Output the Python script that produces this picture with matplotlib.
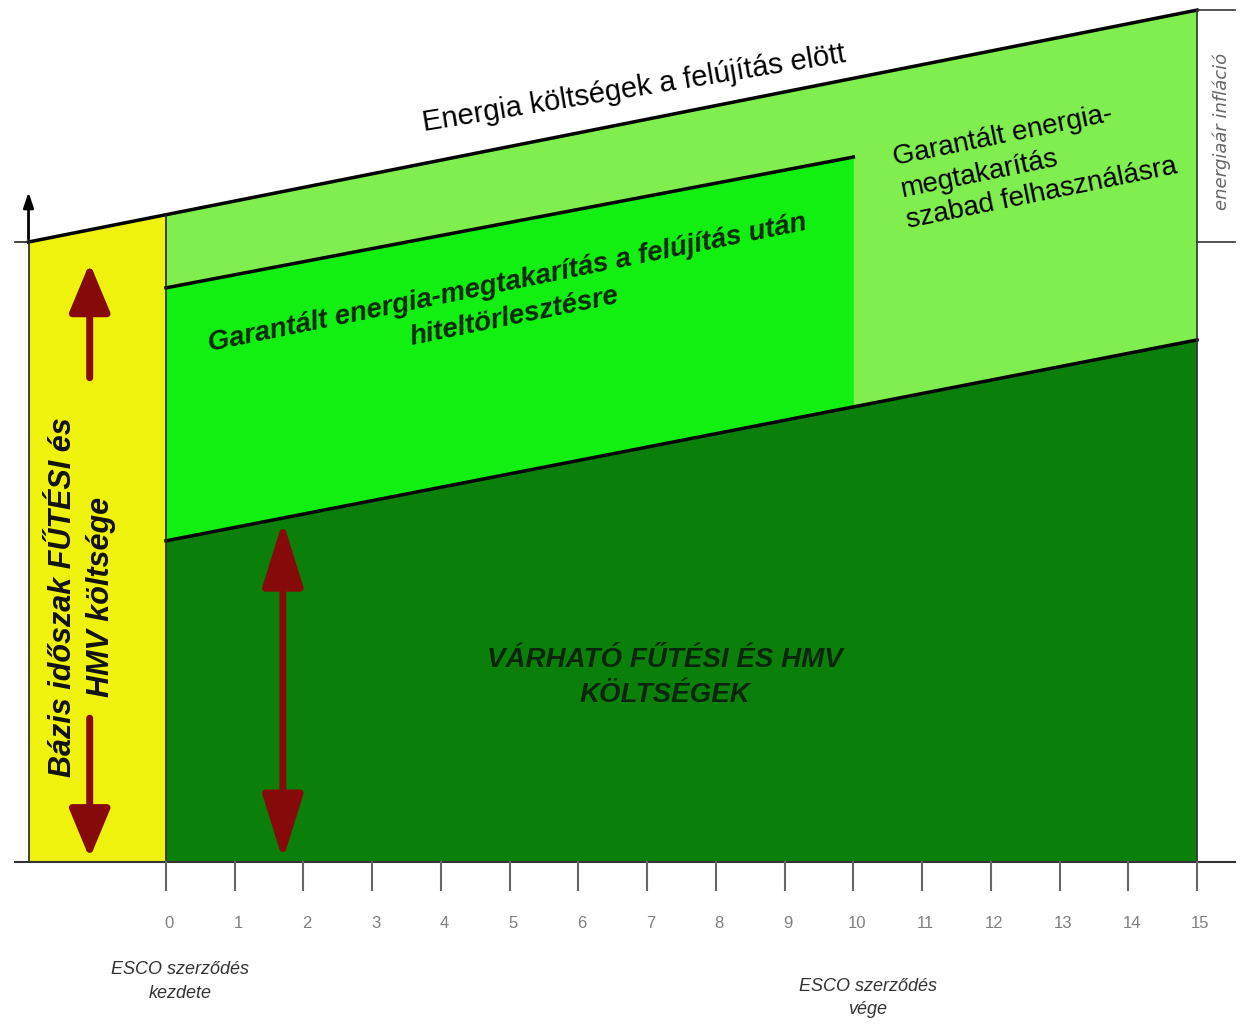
import numpy as np
import matplotlib.pyplot as plt

plt.rcParams['font.family'] = ['Liberation Sans', 'DejaVu Sans']

# cost index values (base period = 100)
base_years = [-2, 0]
base_cost = [100, 104.4]
years = [0, 10, 15]
cost_before = [104.4, 126.4, 137.4]
loan_years = [0, 10]
loan_top = [92.6, 113.7]
expected_cost = [51.8, 73.4, 84.2]
tick_years = list(range(0, 16))
tick_labels = [str(t) for t in tick_years]

c_yellow = '#eef20c'
c_light = '#80ee4e'
c_mid = '#12f012'
c_dark = '#0a800a'
c_red = '#870a0a'

fig = plt.figure(figsize=(12.41, 10.24), dpi=100)
ax = fig.add_axes([0, 0, 1, 1])
ax.set_xlim(-2.415, 15.64)
ax.set_ylim(-26.13, 139.03)
ax.axis('off')

# areas
ax.fill_between(base_years, 0, base_cost, color=c_yellow, lw=0)
ax.fill_between(years, expected_cost, cost_before, color=c_light, lw=0)
ax.fill_between(loan_years, expected_cost[:2], loan_top, color=c_mid, lw=0)
ax.fill_between(years, 0, expected_cost, color=c_dark, lw=0)

# outlines
ax.plot(base_years + years[1:], base_cost + cost_before[1:], color='black', lw=2.5)
ax.plot(loan_years, loan_top, color='black', lw=2.5)
ax.plot(years, expected_cost, color='black', lw=2.5)
ax.plot([0, 0], [0, cost_before[0]], color='#222222', lw=1.2)
ax.plot([-2, -2], [0, base_cost[0]], color='#222222', lw=1.2)
ax.plot([15, 15], [0, cost_before[-1]], color='#333333', lw=1.2)
ax.plot([-2.2, 15.55], [0, 0], color='#333333', lw=1.5)
ax.plot([-2.2, -1.95], [base_cost[0], base_cost[0]], color='#222222', lw=1.2)
ax.plot([15, 15.55], [base_cost[0], base_cost[0]], color='#333333', lw=1.2)
ax.plot([15, 15.55], [cost_before[-1], cost_before[-1]], color='#333333', lw=1.2)
ax.annotate('', xy=(-2, 108.5), xytext=(-2, 100),
            arrowprops=dict(arrowstyle='-|>,head_length=0.9,head_width=0.3',
                            color='black', lw=2, mutation_scale=10))

# x ticks
for t, lab in zip(tick_years, tick_labels):
    ax.plot([t, t], [0, -4.5], color='#666666', lw=1.5)
    ax.text(t + 0.05, -10, lab, ha='center', va='center', fontsize=12, color='#808080')

ax.text(0.2, -19.3, 'ESCO szerződés\nkezdete', ha='center', va='center', fontsize=13,
        style='italic', color='#333333', linespacing=1.5)
ax.text(10.21, -21.9, 'ESCO szerződés\nvége', ha='center', va='center', fontsize=13,
        style='italic', color='#333333', linespacing=1.5)

# arrows
left_kw = dict(arrowstyle='-|>,head_length=3.0,head_width=1.25', color=c_red,
               lw=5, mutation_scale=10, shrinkA=0, shrinkB=0)
ax.annotate('', xy=(-1.11, 96.6), xytext=(-1.11, 78.1), arrowprops=left_kw)
ax.annotate('', xy=(-1.11, 0.6), xytext=(-1.11, 23.2), arrowprops=left_kw)
ax.annotate('', xy=(1.70, 55.0), xytext=(1.70, 0.3),
            arrowprops=dict(arrowstyle='<|-|>,head_length=4.0,head_width=1.25', color=c_red,
                            lw=5, mutation_scale=10, shrinkA=0, shrinkB=0))

# labels
ax.text(6.81, 124.8, 'Energia költségek a felújítás elött', rotation=9.3, ha='center',
        va='center', fontsize=21, color='black', rotation_mode='anchor')
ax.text(5.02, 90.6, 'Garantált energia-megtakarítás a felújítás után\nhiteltörlesztésre',
        rotation=11.5, ha='center', va='center', fontsize=20, fontweight='bold',
        style='italic', color='#082808', rotation_mode='anchor', multialignment='center',
        linespacing=1.4)
ax.text(10.55, 115.5, 'Garantált energia-\nmegtakarítás\nszabad felhasználásra', rotation=11.5,
        ha='left', va='top', fontsize=20, color='black', rotation_mode='anchor',
        linespacing=1.3)
ax.text(7.26, 29.7, 'VÁRHATÓ FŰTÉSI ÉS HMV\nKÖLTSÉGEK', ha='center', va='center',
        fontsize=20, fontweight='bold', style='italic', color='#0a260a', linespacing=1.45)
ax.text(-1.22, 42.7, 'Bázis időszak FŰTÉSI és\nHMV költsége', rotation=90, ha='center',
        va='center', fontsize=22, fontweight='bold', style='italic', color='#111111',
        linespacing=1.35)
ax.text(15.36, 117.9, 'energiaár infláció', rotation=90, ha='center', va='center',
        fontsize=13, style='italic', color='#666666', family='DejaVu Sans')

fig.savefig('out.png', dpi=100)
